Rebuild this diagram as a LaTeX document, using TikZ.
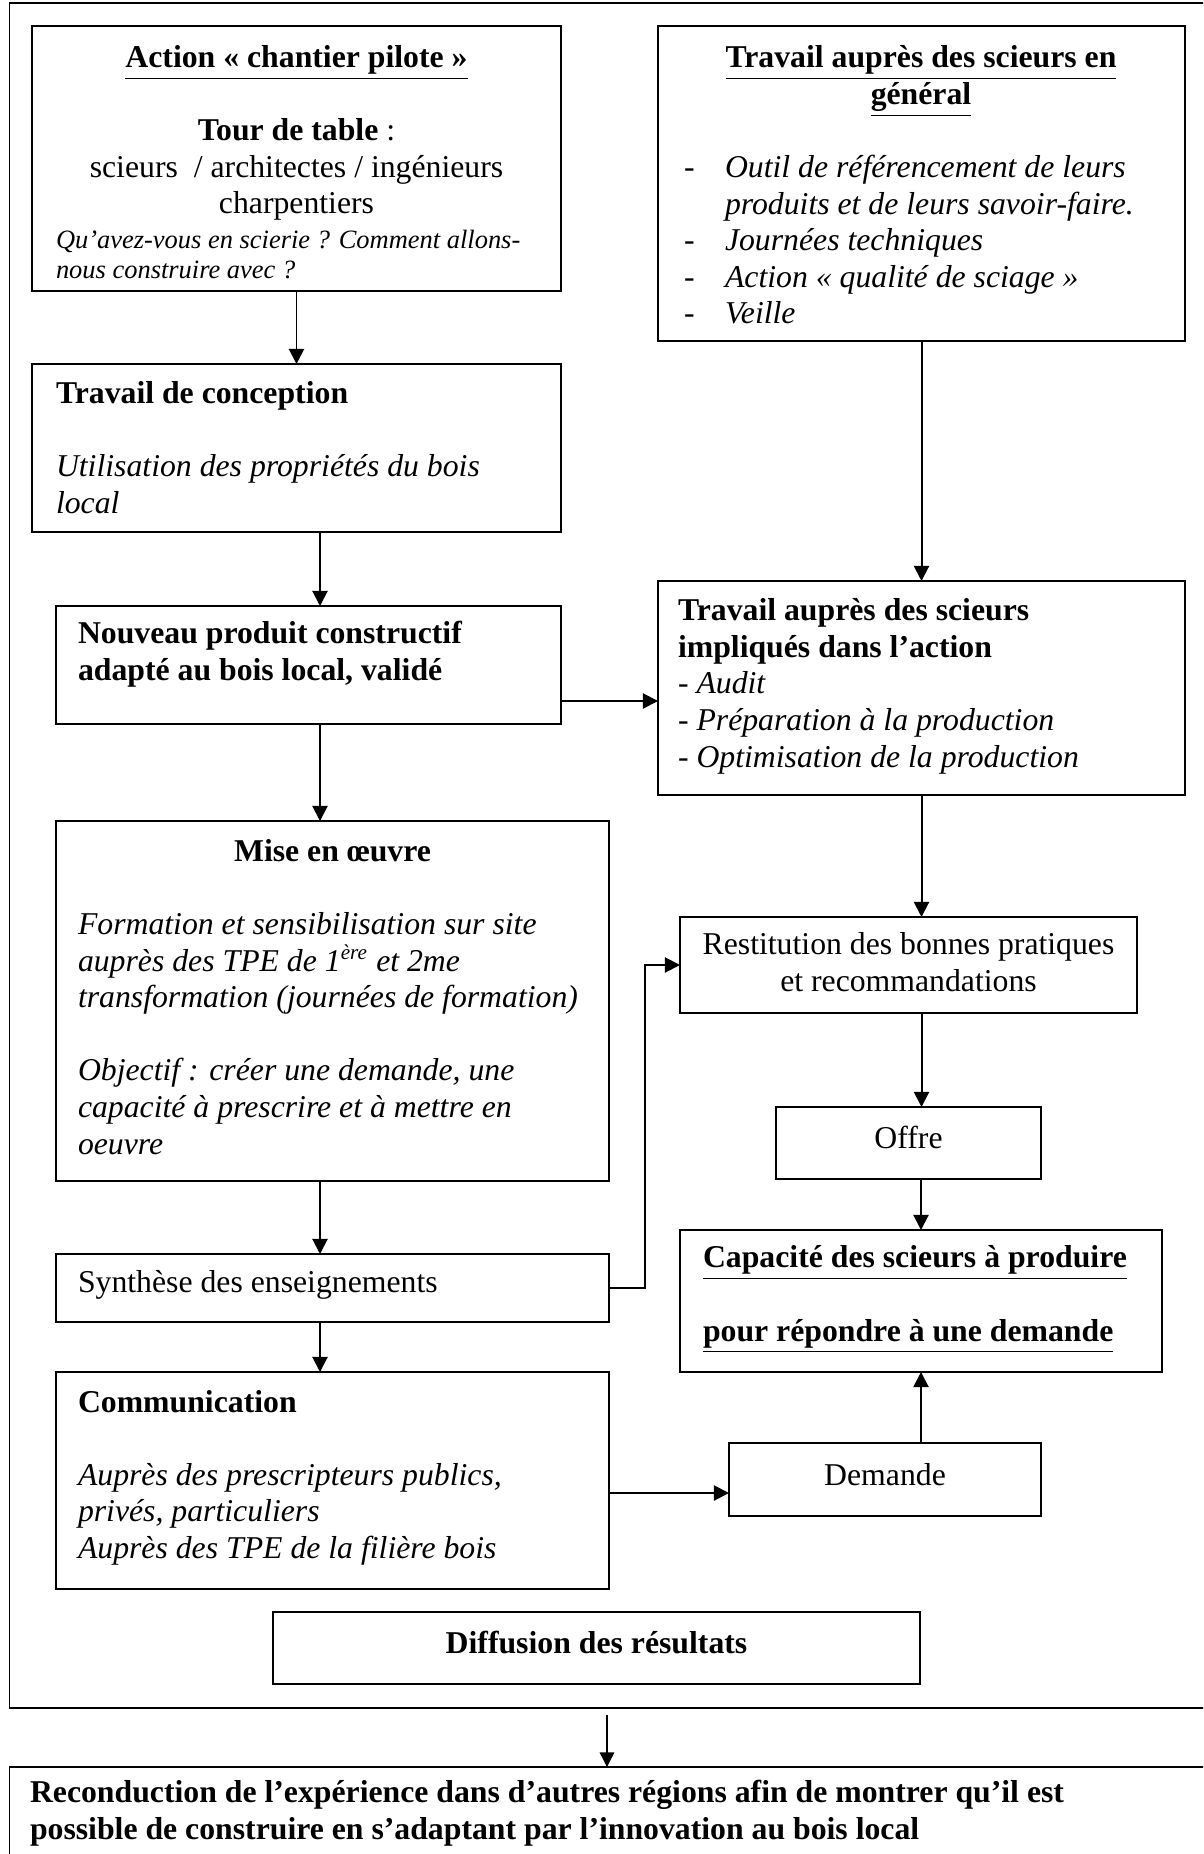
\documentclass[tikz,border=0pt]{standalone}
\usepackage{fontspec}
\setmainfont{Liberation Serif}
\usetikzlibrary{arrows.meta}
\tikzset{
  box/.style={draw, line width=0.75pt, inner sep=0pt, outer sep=0pt},
  txt/.style={inner sep=0pt, outer sep=0pt, font=\fontsize{12}{13.8}\selectfont},
  btxt/.style={inner sep=0pt, outer sep=0pt, font=\fontsize{12}{13.8}\selectfont\bfseries},
  itxt/.style={inner sep=0pt, outer sep=0pt, font=\fontsize{12}{13.8}\selectfont\itshape},
  itsmall/.style={inner sep=0pt, outer sep=0pt, font=\fontsize{10}{11.5}\selectfont\itshape},
  arr/.style={line width=0.75pt, -{Triangle[length=5.7pt,width=5.7pt]}},
  thinarr/.style={line width=0.5pt, -{Triangle[length=5.5pt,width=5.5pt]}},
}
\newcommand\mkbox[5]{\node[box, minimum width={(#4-#2)*0.378pt}, minimum height={(#5-#3)*0.378pt}] (#1) at ({(#2+#4)/2},{(#3+#5)/2}) {};}
\begin{document}
\begin{tikzpicture}[x=0.378pt, y=-0.378pt]
\useasboundingbox (0,0) rectangle (1203,1854);
\clip (0,0) rectangle (1203,1854);
% boxes
\mkbox{frame}{9.5}{3.5}{1215}{1708}
\mkbox{A}{32}{26}{561}{291}
\mkbox{B}{658}{26}{1185}{341}
\mkbox{C}{32}{364}{561}{532}
\mkbox{D}{56}{606}{561}{724}
\mkbox{E}{658}{581}{1185}{795}
\mkbox{F}{56}{821}{609}{1181}
\mkbox{G}{680}{917}{1137}{1013}
\mkbox{H}{776}{1107}{1041}{1179}
\mkbox{I}{56}{1254}{609}{1322}
\mkbox{J}{680}{1230}{1162}{1372}
\mkbox{K}{56}{1372}{609}{1589}
\mkbox{L}{729}{1443}{1041}{1516}
\mkbox{M}{273}{1612}{920}{1684}
\mkbox{N}{9.5}{1767}{1215}{1870}
% texts (anchor base = baseline of the last line)
\node[txt, align=center, anchor=base] (tA) at (296.5,214) {\textbf{\underline{Action « chantier pilote »}}\\[13.8pt] \textbf{Tour de table} :\\ scieurs~ / architectes / ingénieurs\\ charpentiers};
\node[itsmall, align=left, anchor=base west] (tA2) at (56,279) {Qu’avez-vous en scierie ? Comment allons-\\ nous construire avec ?};
\node[btxt, align=center, anchor=base] (tB) at (921,104.5) {\underline{Travail auprès des scieurs en}\\\underline{général}};
\node[txt, align=left, anchor=base west] (dB) at (684,324) {-\\\strut\\-\\-\\-};
\node[itxt, align=left, anchor=base west] (lB) at (725,324) {Outil de référencement de leurs\\produits et de leurs savoir-faire.\\Journées techniques\\Action « qualité de sciage »\\Veille};
\node[btxt, anchor=base west] (tC) at (56,404) {Travail de conception};
\node[itxt, align=left, anchor=base west] (tC2) at (56,513.5) {Utilisation des propriétés du bois\\local};
\node[btxt, align=left, anchor=base west] (tD) at (78,680.5) {Nouveau produit constructif\\adapté au bois local, validé};
\node[txt, align=left, anchor=base west] (tE) at (678,767) {\textbf{Travail auprès des scieurs}\\\textbf{impliqués dans l’action}\\\textit{- Audit}\\\textit{- Préparation à la production}\\\textit{- Optimisation de la production}};
\node[btxt, anchor=base] (tF) at (332.5,861) {Mise en œuvre};
\node[itxt, align=left, anchor=base west] (tF2) at (78,1154) {Formation et sensibilisation sur site\\auprès des TPE de 1\textsuperscript{ère} et 2me\\transformation (journées de formation)\\[13.8pt]Objectif : créer une demande, une\\capacité à prescrire et à mettre en\\oeuvre};
\node[txt, align=center, anchor=base] (tG) at (908.5,991.5) {Restitution des bonnes pratiques\\et recommandations};
\node[txt, anchor=base] (tH) at (908.5,1148) {Offre};
\node[txt, anchor=base west] (tI) at (78,1292) {Synthèse des enseignements};
\node[btxt, align=left, anchor=base west] (tJ) at (703,1341) {\underline{Capacité des scieurs à produire}\\[13.8pt]\underline{pour répondre à une demande}};
\node[btxt, anchor=base west] (tK) at (78,1412) {Communication};
\node[itxt, align=left, anchor=base west] (tK2) at (78,1558) {Auprès des prescripteurs publics,\\privés, particuliers\\Auprès des TPE de la filière bois};
\node[txt, anchor=base] (tL) at (885,1485) {Demande};
\node[btxt, anchor=base] (tM) at (596.5,1653) {Diffusion des résultats};
\node[btxt, align=left, anchor=base west] (tN) at (30,1839) {Reconduction de l’expérience dans d’autres régions afin de montrer qu’il est\\possible de construire en s’adaptant par l’innovation au bois local};
% helper coordinates
\coordinate (colL) at (320,0);
\coordinate (rowDE) at (0,701);
\coordinate (rowKL) at (0,1493);
\coordinate (s) at (607,1715);
% connectors
\draw[arr] (A.south) -- (C.north);
\draw[arr] (C.south -| colL) -- (D.north -| colL);
\draw[arr] (D.south -| colL) -- (F.north -| colL);
\draw[arr] (F.south -| colL) -- (I.north -| colL);
\draw[arr] (I.south -| colL) -- (K.north -| colL);
\draw[arr] (B.south) -- (E.north);
\draw[arr] (D.east |- rowDE) -- (E.west |- rowDE);
\draw[arr] (E.south) -- (E.south |- G.north);
\draw[arr] (G.south -| E.south) -- (E.south |- H.north);
\draw[arr] (H.south -| J.north) -- (J.north);
\draw[arr] (I.east) -- ++(36,0) |- (G.west);
\draw[arr] (K.east |- rowKL) -- (L.west |- rowKL);
\draw[arr] (L.north -| J.south) -- (J.south);
\draw[thinarr] (s) -- (s |- N.north);
\end{tikzpicture}
\end{document}
